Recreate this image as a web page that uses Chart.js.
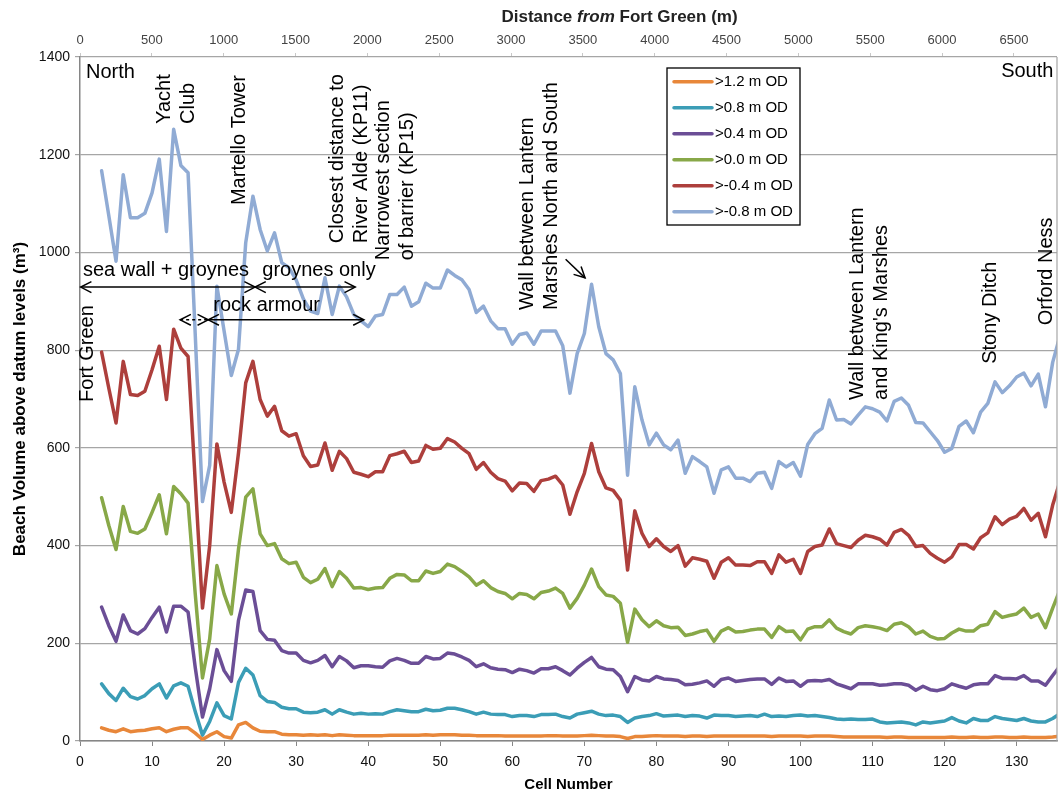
<!DOCTYPE html>
<html>
<head>
<meta charset="utf-8">
<script src="https://cdn.jsdelivr.net/npm/chart.js@4.4.1/dist/chart.umd.min.js"></script>
<style>
  html, body { margin: 0; padding: 0; background: #fff; }
  #wrap { width: 1059px; height: 796px; }
</style>
</head>
<body>
<div id="wrap"><canvas id="volumeChart" width="1059" height="796"></canvas></div>
<script>
const FONT = "'Liberation Sans', Arial, sans-serif";

// survey cells along the frontage, north to south
const cells = [];
for (let c = 3; c <= 136; c++) cells.push(c);

const cellTicks = [0, 10, 20, 30, 40, 50, 60, 70, 80, 90, 100, 110, 120, 130];
const distanceTicks = [0, 500, 1000, 1500, 2000, 2500, 3000, 3500, 4000, 4500, 5000, 5500, 6000, 6500];
const volumeTicks = [0, 200, 400, 600, 800, 1000, 1200, 1400];

const seriesLabels = ['>1.2 m OD', '>0.8 m OD', '>0.4 m OD', '>0.0 m OD', '>-0.4 m OD', '>-0.8 m OD'];
const seriesColors = ['#e8873a', '#3b9db6', '#6b4e96', '#88a848', '#ad3f3c', '#90abd4'];

// beach volume (m3) above each datum level, cells 3-9, 10-19, ... 130-136
const above12 = [
  27, 22, 19, 25, 19, 21, 22,
  25, 27, 19, 24, 27, 27, 16, 3, 12, 19,
  9, 6, 33, 38, 27, 20, 19, 19, 14, 13,
  13, 12, 13, 12, 13, 11, 13, 12, 11, 11,
  11, 11, 11, 12, 12, 12, 12, 12, 13, 12,
  13, 13, 13, 12, 12, 11, 11, 11, 11, 10,
  10, 10, 10, 10, 10, 11, 11, 10, 10, 10,
  11, 12, 11, 10, 10, 9, 5, 9, 9, 10,
  11, 10, 10, 10, 9, 10, 10, 9, 10, 10,
  10, 10, 10, 10, 10, 10, 9, 10, 10, 10,
  10, 9, 10, 10, 10, 9, 8, 8, 8, 8,
  8, 8, 7, 8, 8, 7, 7, 7, 7, 7,
  7, 8, 7, 7, 8, 7, 7, 8, 8, 7,
  7, 8, 7, 7, 7, 8, 10
];
const above08 = [
  117, 97, 83, 108, 91, 86, 93,
  107, 117, 88, 113, 119, 112, 60, 12, 40, 78,
  52, 45, 120, 149, 135, 93, 81, 79, 69, 66,
  66, 59, 58, 59, 64, 55, 64, 59, 55, 57,
  55, 56, 55, 60, 64, 62, 60, 60, 65, 62,
  63, 67, 67, 64, 60, 55, 59, 55, 54, 54,
  50, 52, 52, 50, 54, 54, 55, 50, 47, 55,
  58, 61, 55, 52, 53, 50, 38, 47, 50, 52,
  56, 51, 52, 53, 50, 52, 51, 47, 53, 52,
  52, 50, 51, 52, 50, 55, 50, 51, 50, 52,
  53, 51, 52, 50, 48, 45, 44, 45, 44, 44,
  45, 39, 37, 38, 39, 37, 33, 39, 37, 39,
  41, 48, 41, 37, 46, 42, 42, 50, 46, 44,
  42, 46, 41, 39, 39, 46, 56
];
const above04 = [
  274, 236, 204, 258, 226, 219, 230,
  253, 274, 223, 276, 276, 264, 150, 49, 107, 187,
  144, 122, 247, 309, 306, 226, 208, 206, 185, 180,
  180, 165, 160, 165, 175, 152, 173, 164, 150, 154,
  154, 152, 151, 164, 169, 165, 159, 159, 173, 168,
  169, 180, 178, 172, 165, 152, 158, 150, 147, 146,
  140, 147, 144, 139, 148, 148, 152, 144, 135, 149,
  161, 171, 152, 147, 146, 132, 101, 132, 125, 123,
  132, 127, 126, 124, 115, 116, 119, 123, 112, 126,
  129, 122, 124, 126, 127, 127, 116, 129, 122, 123,
  112, 123, 124, 123, 126, 117, 112, 107, 117, 117,
  117, 114, 115, 117, 117, 114, 104, 112, 105, 103,
  107, 117, 112, 108, 115, 117, 117, 134, 128, 128,
  127, 134, 123, 123, 114, 134, 153
];
const above00 = [
  498, 441, 392, 480, 429, 425, 434,
  468, 504, 424, 521, 506, 487, 300, 129, 209, 359,
  301, 260, 393, 499, 516, 424, 400, 404, 373, 363,
  366, 335, 324, 331, 353, 316, 347, 333, 313, 314,
  310, 313, 314, 333, 341, 340, 328, 328, 348, 343,
  347, 362, 357, 347, 336, 319, 328, 314, 306, 302,
  291, 302, 300, 291, 304, 307, 313, 302, 272, 292,
  319, 352, 316, 299, 296, 282, 202, 270, 248, 234,
  246, 236, 232, 233, 216, 219, 224, 227, 204, 225,
  232, 223, 224, 227, 229, 229, 212, 234, 224, 225,
  207, 229, 234, 234, 248, 231, 224, 219, 232, 236,
  234, 231, 226, 239, 242, 234, 219, 225, 214, 209,
  210, 221, 229, 225, 225, 236, 239, 265, 253, 257,
  260, 272, 253, 260, 232, 272, 309
];
const aboveM04 = [
  796, 722, 651, 777, 709, 707, 716,
  760, 808, 699, 843, 804, 787, 530, 272, 400, 608,
  530, 468, 590, 733, 777, 699, 665, 685, 635, 624,
  629, 584, 562, 565, 610, 554, 593, 578, 550, 546,
  541, 551, 551, 584, 588, 593, 570, 573, 605, 597,
  599, 619, 612, 599, 588, 556, 570, 550, 537, 532,
  512, 528, 527, 511, 533, 536, 542, 524, 464, 510,
  548, 609, 551, 518, 513, 493, 350, 471, 425, 398,
  414, 398, 388, 400, 358, 375, 372, 368, 333, 366,
  375, 360, 360, 359, 367, 367, 343, 381, 366, 372,
  343, 388, 398, 401, 434, 404, 400, 396, 411, 421,
  418, 413, 401, 427, 433, 421, 398, 400, 384, 374,
  366, 377, 402, 402, 393, 416, 426, 459, 443, 454,
  460, 476, 452, 466, 418, 483, 531
];
const aboveM08 = [
  1167, 1075, 982, 1159, 1071, 1071, 1080,
  1122, 1191, 1043, 1252, 1178, 1163, 830, 490, 564, 931,
  839, 748, 802, 1020, 1115, 1047, 1003, 1040, 979, 969,
  944, 905, 880, 875, 948, 873, 931, 909, 873, 860,
  848, 870, 873, 914, 914, 929, 890, 899, 937, 927,
  927, 964, 953, 944, 924, 877, 890, 860, 844, 844,
  812, 832, 835, 812, 839, 839, 839, 809, 712, 793,
  834, 935, 848, 793, 780, 752, 544, 725, 657, 606,
  630, 606, 596, 616, 548, 582, 572, 561, 507, 555,
  561, 538, 538, 531, 548, 550, 517, 572, 561, 570,
  542, 607, 629, 640, 698, 657, 658, 649, 667, 684,
  680, 673, 655, 695, 702, 687, 652, 651, 633, 615,
  591, 599, 644, 655, 631, 673, 691, 735, 713, 727,
  745, 753, 727, 751, 684, 775, 829
];
const seriesValues = [above12, above08, above04, above00, aboveM04, aboveM08];

// location labels: cell, volume where the rotated text starts, text lines
const placeNotes = [
  { cell: 1.1, from: 694, lines: ['Fort Green'] },
  { cell: 11.7, from: 1263, lines: ['Yacht', 'Club'] },
  { cell: 22.1, from: 1097, lines: ['Martello Tower'] },
  { cell: 35.8, from: 1019, lines: ['Closest distance to', 'River Alde (KP11)'] },
  { cell: 42.1, from: 984, lines: ['Narrowest section', 'of barrier (KP15)'] },
  { cell: 62.1, from: 882, lines: ['Wall between Lantern', 'Marshes North and South'] },
  { cell: 107.9, from: 698, lines: ['Wall between Lantern', "and King's Marshes"] },
  { cell: 126.4, from: 772, lines: ['Stony Ditch'] },
  { cell: 134.1, from: 851, lines: ['Orford Ness'] }
];

// defence stretches: start cell, end cell, volume level of the arrow
const defences = [
  { text: 'sea wall + groynes', textCell: 0.4, textAt: 964, from: 0.1, to: 24.3, at: 929 },
  { text: 'groynes only', textCell: 25.3, textAt: 964, from: 24.3, to: 38.2, at: 929 },
  { text: 'rock armour', textCell: 18.5, textAt: 892, from: 17.8, to: 39.4, at: 862 },
  { text: '', from: 13.9, to: 17.8, at: 862, dashed: true }
];

function head(ctx, x, y, ang) {
  const len = 12, spread = 0.47;
  ctx.beginPath();
  ctx.moveTo(x - len * Math.cos(ang - spread), y - len * Math.sin(ang - spread));
  ctx.lineTo(x, y);
  ctx.lineTo(x - len * Math.cos(ang + spread), y - len * Math.sin(ang + spread));
  ctx.stroke();
}

const notesPlugin = {
  id: 'notes',
  afterDatasetsDraw(chart) {
    const { ctx, chartArea } = chart;
    const X = v => chart.scales.x.getPixelForValue(v);
    const Y = v => chart.scales.y.getPixelForValue(v);
    ctx.save();

    // plot frame on the right
    ctx.strokeStyle = '#a6a6a6';
    ctx.lineWidth = 1.2;
    ctx.beginPath();
    ctx.moveTo(chartArea.right, chartArea.top);
    ctx.lineTo(chartArea.right, chartArea.bottom);
    ctx.stroke();

    ctx.fillStyle = '#000';
    ctx.font = '20px ' + FONT;
    ctx.textBaseline = 'middle';
    ctx.textAlign = 'left';
    ctx.fillText('North', X(0.83), Y(1369));
    ctx.textAlign = 'right';
    ctx.fillText('South', X(135.1), Y(1371));

    placeNotes.forEach(n => {
      ctx.save();
      ctx.translate(X(n.cell), Y(n.from));
      ctx.rotate(-Math.PI / 2);
      ctx.textAlign = 'left';
      n.lines.forEach((t, i) => ctx.fillText(t, 0, i * 24));
      ctx.restore();
    });

    ctx.strokeStyle = '#000';
    ctx.lineWidth = 1.5;
    defences.forEach(d => {
      if (d.text) {
        ctx.textAlign = 'left';
        ctx.fillText(d.text, X(d.textCell), Y(d.textAt));
      }
      const y = Y(d.at), x1 = X(d.from), x2 = X(d.to);
      ctx.setLineDash(d.dashed ? [3, 3] : []);
      ctx.beginPath();
      ctx.moveTo(x1, y);
      ctx.lineTo(x2, y);
      ctx.stroke();
      ctx.setLineDash([]);
      head(ctx, x1, y, Math.PI);
      head(ctx, x2, y, 0);
    });

    // pointer to the Lantern Marshes wall
    const px1 = X(67.4), py1 = Y(986), px2 = X(70.1), py2 = Y(948);
    ctx.beginPath();
    ctx.moveTo(px1, py1);
    ctx.lineTo(px2, py2);
    ctx.stroke();
    head(ctx, px2, py2, Math.atan2(py2 - py1, px2 - px1));

    // top axis title, "from" set in italics
    const parts = [['Distance ', 'bold'], ['from', 'italic bold'], [' Fort Green (m)', 'bold']];
    const widths = parts.map(p => { ctx.font = p[1] + ' 17px ' + FONT; return ctx.measureText(p[0]).width; });
    let tx = chart.scales.x2.getPixelForValue(3755) - widths.reduce((a, b) => a + b, 0) / 2;
    ctx.fillStyle = '#222';
    ctx.textAlign = 'left';
    parts.forEach((p, i) => {
      ctx.font = p[1] + ' 17px ' + FONT;
      ctx.fillText(p[0], tx, 17);
      tx += widths[i];
    });
    ctx.restore();
  }
};

const legendBox = {
  id: 'legendBox',
  afterDatasetsDraw(chart) {
    const { ctx, chartArea } = chart;
    const left = chartArea.left + 587, top = chartArea.top + 11;
    ctx.save();
    ctx.fillStyle = '#fff';
    ctx.fillRect(left, top, 133, 157);
    ctx.strokeStyle = '#000';
    ctx.lineWidth = 1.3;
    ctx.strokeRect(left, top, 133, 157);
    ctx.font = '15px ' + FONT;
    ctx.textBaseline = 'middle';
    ctx.textAlign = 'left';
    chart.data.datasets.forEach((ds, i) => {
      const y = top + 13.7 + i * 26;
      ctx.strokeStyle = ds.borderColor;
      ctx.lineWidth = 3.5;
      ctx.lineCap = 'round';
      ctx.beginPath();
      ctx.moveTo(left + 7, y);
      ctx.lineTo(left + 45, y);
      ctx.stroke();
      ctx.fillStyle = '#000';
      ctx.fillText(ds.label, left + 48, y);
    });
    ctx.restore();
  }
};

const useTicks = list => scale => { scale.ticks = list.map(v => ({ value: v })); };

new Chart(document.getElementById('volumeChart'), {
  type: 'line',
  data: {
    datasets: seriesLabels.map((label, i) => ({
      label,
      data: cells.map((c, j) => ({ x: c, y: seriesValues[i][j] })),
      borderColor: seriesColors[i],
      backgroundColor: seriesColors[i],
      borderWidth: 3.5,
      pointRadius: 0,
      tension: 0,
      borderJoinStyle: 'round',
      borderCapStyle: 'round',
      fill: false
    }))
  },
  options: {
    responsive: false,
    animation: false,
    events: [],
    layout: { padding: { left: 0, right: 2, top: 0, bottom: 0 } },
    plugins: { legend: { display: false }, tooltip: { enabled: false } },
    scales: {
      x: {
        type: 'linear', position: 'bottom', min: 0, max: 135.6,
        afterBuildTicks: useTicks(cellTicks),
        afterFit: s => { s.height = 55; },
        ticks: { autoSkip: false, maxRotation: 0, color: '#111', padding: 8,
                 font: { family: FONT, size: 14 }, callback: v => String(v) },
        grid: { drawOnChartArea: false, tickLength: 5, color: '#868686' },
        border: { color: '#868686', width: 1.5 },
        title: { display: true, text: 'Cell Number', color: '#000', padding: { top: 0, bottom: 2 },
                 font: { family: FONT, size: 15, weight: 'bold' } }
      },
      x2: {
        type: 'linear', position: 'top', min: 0, max: 6800,
        afterBuildTicks: useTicks(distanceTicks),
        afterFit: s => { s.height = 57; },
        ticks: { autoSkip: false, maxRotation: 0, color: '#444', padding: 5,
                 font: { family: FONT, size: 13 }, callback: v => String(v) },
        grid: { drawOnChartArea: false, tickLength: 4, color: '#c8c8c8' },
        border: { display: false }
      },
      y: {
        min: 0, max: 1400,
        afterBuildTicks: useTicks(volumeTicks),
        afterFit: s => { s.width = 80; },
        ticks: { color: '#111', padding: 5, font: { family: FONT, size: 14 }, callback: v => String(v) },
        grid: { color: '#a6a6a6', lineWidth: 1.2, tickLength: 5 },
        border: { color: '#868686', width: 1.5 },
        title: { display: true, text: 'Beach Volume above datum levels (m³)', color: '#000',
                 padding: { top: 10, bottom: 0 }, font: { family: FONT, size: 17, weight: 'bold' } }
      }
    }
  },
  plugins: [notesPlugin, legendBox]
});
</script>
</body>
</html>
